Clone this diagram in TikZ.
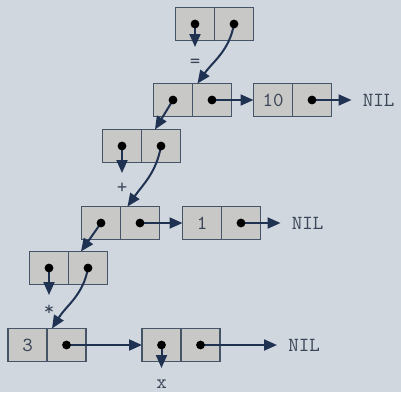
\documentclass[tikz,border=0pt]{standalone}
\usetikzlibrary{positioning, arrows.meta}
\definecolor{Fondo}{RGB}{208,215,223}
\definecolor{Relleno}{RGB}{200,200,198}
\definecolor{Borde}{RGB}{70,84,104}
\definecolor{Flecha}{RGB}{32,50,82}
\definecolor{Texto}{RGB}{58,70,88}

\begin{document}
\begin{tikzpicture}[x=0.5pt, y=-0.5pt,
    celda/.style={draw=Borde, fill=Relleno, line width=0.7pt, minimum width=19.5pt, minimum height=16.5pt, inner sep=0pt, outer sep=0pt, font=\ttfamily, text=Texto},
    arr/.style={-{Triangle[length=6.5pt, width=5.5pt]}, line width=1pt, Flecha},
    nil/.style={font=\ttfamily, text=Texto, inner xsep=5.5pt, inner ysep=0pt},
    lbl/.style={font=\ttfamily, text=Texto, inner xsep=0pt, inner ysep=4pt, text height=6pt, text depth=0pt}
]
    \fill[Fondo] (0,0) rectangle (401,392);
    \useasboundingbox (0,0) rectangle (401,392);

    % celdas cons
    \node[celda] (c1a) at (195,24) {};
    \node[celda, right=0pt of c1a] (c1b) {};
    \node[celda] (c2a) at (173,100) {};
    \node[celda, right=0pt of c2a] (c2b) {};
    \node[celda, right=11pt of c2b] (n10a) {10};
    \node[celda, right=0pt of n10a] (n10b) {};
    \node[nil, right=10pt of n10b] (nil1) {NIL};
    \node[celda] (c3a) at (122,146) {};
    \node[celda, right=0pt of c3a] (c3b) {};
    \node[celda] (c4a) at (101,223) {};
    \node[celda, right=0pt of c4a] (c4b) {};
    \node[celda, right=11.5pt of c4b] (n1a) {1};
    \node[celda, right=0pt of n1a] (n1b) {};
    \node[nil, right=10pt of n1b] (nil2) {NIL};
    \node[celda] (c5a) at (49,268) {};
    \node[celda, right=0pt of c5a] (c5b) {};
    \node[celda] (c6a) at (27.5,345) {3};
    \node[celda, right=0pt of c6a] (c6b) {};
    \node[celda, right=28pt of c6b] (c7a) {};
    \node[celda, right=0pt of c7a] (c7b) {};
    \node[nil, right=28.5pt of c7b] (nil3) {NIL};

    % simbolos
    \node[lbl, below=11.5pt of c1a.center] (igual) {=};
    \node[lbl, below=13.5pt of c3a.center] (mas) {+};
    \node[lbl, below=13.5pt of c5a.center] (por) {*};
    \node[lbl, below=11.5pt of c7a.center] (x) {x};

    % punteros
    \draw[arr] (c1a.center) -- (igual);
    \draw[arr] (c1b.center) to[out=-100, in=55] ([xshift=2.5pt]c2b.north west);
    \draw[arr] (c2a.center) -- ([xshift=6.75pt]c3b.north west);
    \draw[arr] (c2b.center) -- (n10a);
    \draw[arr] (n10b.center) -- (nil1);
    \draw[arr] (c3a.center) -- (mas);
    \draw[arr] (c3b.center) to[out=-100, in=55] ([xshift=3.5pt]c4b.north west);
    \draw[arr] (c4a.center) -- ([xshift=6.25pt]c5b.north west);
    \draw[arr] (c4b.center) -- (n1a);
    \draw[arr] (n1b.center) -- (nil2);
    \draw[arr] (c5a.center) -- (por);
    \draw[arr] (c5b.center) to[out=-100, in=58] ([xshift=2.5pt]c6b.north west);
    \draw[arr] (c6b.center) -- (c7a);
    \draw[arr] (c7a.center) -- (x);
    \draw[arr] (c7b.center) -- (nil3);

    \foreach \c in {c1a,c1b,c2a,c2b,n10b,c3a,c3b,c4a,c4b,n1b,c5a,c5b,c6b,c7a,c7b}
        \fill (\c.center) circle (2.2pt);
\end{tikzpicture}
\end{document}
